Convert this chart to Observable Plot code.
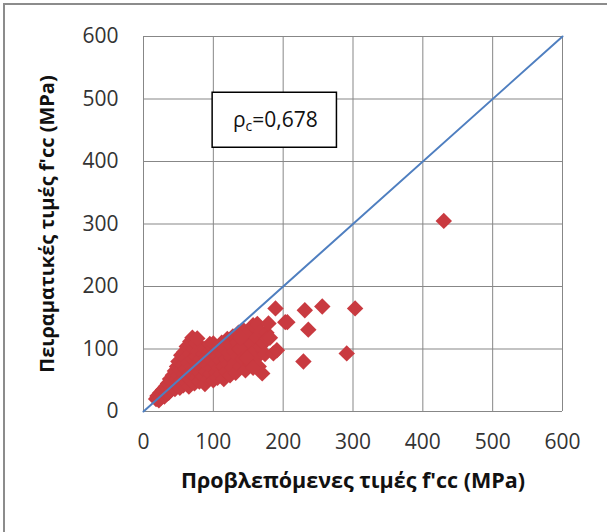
<!DOCTYPE html>
<html>
<head>
<meta charset="utf-8">
<script src="https://cdn.jsdelivr.net/npm/d3@7"></script>
<script src="https://cdn.jsdelivr.net/npm/@observablehq/plot@0.6"></script>
<style>
  html, body { margin: 0; padding: 0; background: #fff; }
  #wrap { position: relative; width: 607px; height: 532px; overflow: hidden; }
  #border { position: absolute; left: 3px; top: 3px; width: 640px; height: 560px;
            border-left: 2px solid #8c8c8c; border-top: 2px solid #8c8c8c; pointer-events: none; }
</style>
</head>
<body>
<div id="wrap"><div id="border"></div></div>
<script>
// Predicted (x) vs experimental (y) f'cc values in MPa
const predicted = [
  18,20,22,24,25,27,28,30,30,32,33,35,35,36,38,38,40,40,42,42,44,45,45,47,48,48,50,50,51,52,
  53,54,55,56,57,58,58,60,60,61,62,63,64,65,66,67,67,68,69,70,70,71,72,73,74,75,75,76,78,78,
  80,80,82,82,84,85,86,87,88,88,90,90,92,93,94,95,96,97,98,100,100,102,103,104,105,106,108,108,110,111,
  112,113,114,115,116,118,119,120,121,122,124,125,126,127,128,130,131,132,134,135,136,138,139,140,142,143,145,146,148,150,
  152,153,155,157,158,160,162,163,165,167,168,170,172,174,176,177,179,181,186,189,191,203,206,231,236,229,256,291,303,430,
  77,100,139,148,157
];
const experimental = [
  20,25,18,30,22,28,35,24,32,40,28,36,45,30,42,52,35,48,58,40,46,65,36,52,72,42,58,80,46,38,
  66,90,50,75,42,60,95,85,48,68,104,55,78,40,62,112,92,50,72,84,118,58,100,45,66,110,88,54,76,96,
  62,48,104,84,70,56,92,78,44,100,64,86,74,52,96,108,60,82,70,92,50,104,76,62,88,54,98,70,82,60,
  110,92,72,52,100,84,64,116,76,94,58,106,86,70,120,96,78,62,110,88,126,100,72,116,84,130,104,66,118,92,
  128,76,108,138,96,84,118,140,72,104,128,61,110,92,126,117,141,118,93,165,98,143,143,162,131,80,168,93,165,305,
  117,109,118,86,70
];
const ticks = [0, 100, 200, 300, 400, 500, 600];
const refLine = [0, 600];
const xTitle = "Προβλεπόμενες τιμές f'cc (MPa)";
const yTitle = "Πειραματικές τιμές f'cc (MPa)";
const note = "ρc=0,678";
const noteBox = {x1: 99, x2: 277, y1: 422, y2: 510};
const notePos = {x: 128, y: 466};

const points = predicted.map((p, i) => ({x: p, y: experimental[i]}));

const chart = Plot.plot({
  width: 607,
  height: 532,
  marginLeft: 143,
  marginRight: 45,
  marginTop: 36,
  marginBottom: 121,
  style: {fontFamily: "'Open Sans', sans-serif", fontSize: "20px", color: "#262626", background: "transparent"},
  x: {domain: [0, 600], ticks: ticks},
  y: {domain: [0, 600], ticks: ticks},
  marks: [
    Plot.gridX(ticks, {stroke: "#878787", strokeOpacity: 1, strokeWidth: 1}),
    Plot.gridY(ticks, {stroke: "#878787", strokeOpacity: 1, strokeWidth: 1}),
    Plot.axisX(ticks, {tickSize: 0, tickPadding: 23, label: null, fontSize: 21, fill: "#333"}),
    Plot.axisY(ticks, {tickSize: 0, tickPadding: 25, label: null, fontSize: 21, fill: "#333"}),
    Plot.dot(points, {x: "x", y: "y", symbol: "diamond2", r: 7.4, fill: "#c93a40", stroke: "none"}),
    Plot.line(refLine.map(v => ({x: v, y: v})), {x: "x", y: "y", stroke: "#4f7fc0", strokeWidth: 2}),
    Plot.rect([noteBox], {x1: "x1", x2: "x2", y1: "y1", y2: "y2", fill: "white", stroke: "black", strokeWidth: 1.5}),
    Plot.text([notePos], {x: "x", y: "y", text: () => note, textAnchor: "start", fontSize: 21, fill: "#111"}),
    Plot.text([xTitle], {frameAnchor: "bottom", dy: 76, text: d => d, textAnchor: "middle", fontWeight: "bold", fontSize: 21.5, fill: "#111"}),
    Plot.text([yTitle], {frameAnchor: "left", dx: -96, rotate: -90, text: d => d, textAnchor: "middle", fontWeight: "bold", fontSize: 20, fill: "#111"})
  ]
});

// subscript "c" in the annotation
chart.querySelectorAll("text").forEach(t => {
  if (t.textContent === note) {
    t.textContent = "";
    const ns = "http://www.w3.org/2000/svg";
    const a = document.createElementNS(ns, "tspan"); a.textContent = "ρ";
    const b = document.createElementNS(ns, "tspan"); b.textContent = "c"; b.setAttribute("font-size", "14"); b.setAttribute("dy", "4");
    const c = document.createElementNS(ns, "tspan"); c.textContent = "=0,678"; c.setAttribute("dy", "-4");
    t.append(a, b, c);
  }
});

document.getElementById("wrap").prepend(chart);
</script>
</body>
</html>
